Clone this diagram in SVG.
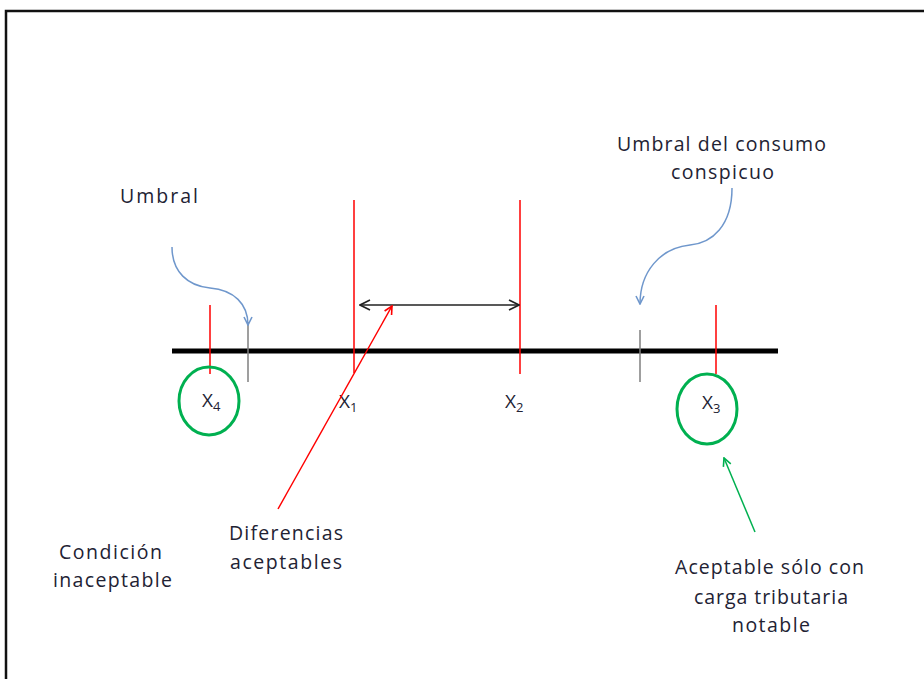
<svg xmlns="http://www.w3.org/2000/svg" width="924" height="679" viewBox="0 0 924 679">
<defs>
<style>
.t{font-family:"Open Sans","Liberation Sans",sans-serif;font-size:19.5px;fill:#222233}
.x{font-family:"Open Sans","Liberation Sans",sans-serif;font-size:19px;fill:#222233}
.sub{font-size:13px}
.red{stroke:#ff0000;stroke-width:1.5;fill:none}
.gray{stroke:#7f7f7f;stroke-width:1.5;fill:none}
.blue{stroke:#6f97cc;stroke-width:1.5;fill:none}
.ring{stroke:#00b050;stroke-width:3;fill:none}
</style>
<marker id="ab" viewBox="0 0 10 10" refX="9" refY="5" markerWidth="10" markerHeight="10" markerUnits="userSpaceOnUse" orient="auto-start-reverse"><path d="M1,1 L9,5 L1,9" fill="none" stroke="#6f97cc" stroke-width="1.6"/></marker>
<marker id="ak" viewBox="0 0 12 12" refX="11" refY="6" markerWidth="12" markerHeight="12" markerUnits="userSpaceOnUse" orient="auto-start-reverse"><path d="M1,1 L11,6 L1,11" fill="none" stroke="#222" stroke-width="1.6"/></marker>
<marker id="ar" viewBox="0 0 10 10" refX="9" refY="5" markerWidth="10" markerHeight="10" markerUnits="userSpaceOnUse" orient="auto"><path d="M1,1 L9,5 L1,9" fill="none" stroke="#ff0000" stroke-width="1.6"/></marker>
<marker id="ag" viewBox="0 0 10 10" refX="9" refY="5" markerWidth="10" markerHeight="10" markerUnits="userSpaceOnUse" orient="auto"><path d="M1,1 L9,5 L1,9" fill="none" stroke="#00b050" stroke-width="1.6"/></marker>
</defs>
<rect width="924" height="679" fill="#ffffff"/>
<path d="M6,679 V11 H924" fill="none" stroke="#111" stroke-width="2.5"/>

<g id="axis">
<line x1="172" y1="351" x2="778" y2="351" stroke="#000" stroke-width="5"/>
</g>

<g id="x4">
<line class="red" x1="210" y1="305" x2="210" y2="374"/>
<ellipse class="ring" cx="209" cy="401" rx="30" ry="34"/>
<text class="x" x="202" y="407">X<tspan class="sub" dy="4">4</tspan></text>
</g>
<g id="umbral-tick"><line class="gray" x1="248" y1="322" x2="248" y2="382"/></g>
<g id="x1">
<line class="red" x1="354" y1="200" x2="354" y2="373"/>
<text class="x" x="339" y="408">X<tspan class="sub" dy="4">1</tspan></text>
</g>
<g id="x2">
<line class="red" x1="520" y1="200" x2="520" y2="374"/>
<text class="x" x="505" y="408">X<tspan class="sub" dy="4">2</tspan></text>
</g>
<g id="conspicuo-tick"><line class="gray" x1="640" y1="330" x2="640" y2="382"/></g>
<g id="x3">
<line class="red" x1="716" y1="305" x2="716" y2="374"/>
<ellipse class="ring" cx="707" cy="409" rx="30" ry="35"/>
<text class="x" x="702" y="409">X<tspan class="sub" dy="4">3</tspan></text>
</g>

<g id="label-umbral"><text class="t" x="120" y="203" textLength="78" lengthAdjust="spacing">Umbral</text></g>
<g id="label-conspicuo">
<text class="t" x="617" y="151" textLength="209" lengthAdjust="spacing">Umbral del consumo</text>
<text class="t" x="671" y="179" textLength="103" lengthAdjust="spacing">conspicuo</text>
</g>
<g id="label-inaceptable">
<text class="t" x="59" y="559" textLength="103" lengthAdjust="spacing">Condición</text>
<text class="t" x="53" y="587" textLength="119" lengthAdjust="spacing">inaceptable</text>
</g>
<g id="label-diferencias">
<text class="t" x="229" y="540" textLength="114" lengthAdjust="spacing">Diferencias</text>
<text class="t" x="230" y="569" textLength="112" lengthAdjust="spacing">aceptables</text>
</g>
<g id="label-aceptable">
<text class="t" x="675" y="574" textLength="189" lengthAdjust="spacing">Aceptable sólo con</text>
<text class="t" x="694" y="604" textLength="154" lengthAdjust="spacing">carga tributaria</text>
<text class="t" x="732" y="632" textLength="78" lengthAdjust="spacing">notable</text>
</g>

<g id="connectors">
<path class="blue" d="M172,247 C172,272 188,286 210,288 C234,290 248,304 248,325" marker-end="url(#ab)"/>
<path class="blue" d="M732,188 C732,226 712,243 690,245 C660,248 640,272 640,304" marker-end="url(#ab)"/>
<line x1="360" y1="305" x2="519" y2="305" stroke="#222" stroke-width="1.5" marker-start="url(#ak)" marker-end="url(#ak)"/>
<line class="red" x1="278" y1="509" x2="392" y2="306" marker-end="url(#ar)"/>
<line x1="755" y1="532" x2="724" y2="458" stroke="#00b050" stroke-width="1.5" marker-end="url(#ag)"/>
</g>
</svg>
